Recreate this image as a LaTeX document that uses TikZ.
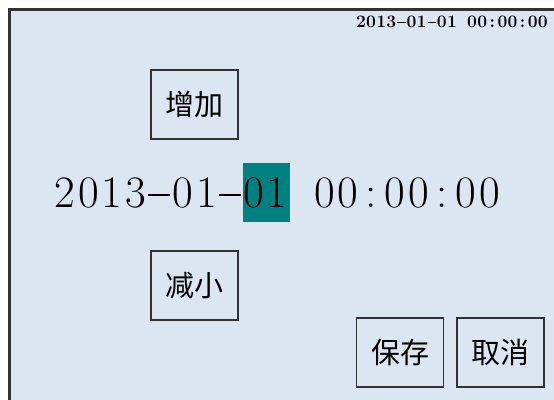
\documentclass[tikz,border=0pt]{standalone}
\usepackage{fontspec}
\newfontfamily\cjk{Noto Sans CJK SC}
\definecolor{panelbg}{RGB}{220,230,242}
\definecolor{selbg}{RGB}{0,128,128}
\definecolor{edge}{RGB}{50,50,50}
\newcommand{\dash}{\rule[0.24em]{0.48em}{0.06em}}

\begin{document}
\begin{tikzpicture}[x=1pt,y=-1pt]
\tikzstyle{button}=[draw=edge,line width=1.6pt,minimum width=87pt,minimum height=69pt,inner sep=0pt,font=\cjk\fontsize{29}{30}\selectfont]
\tikzstyle{bigch}=[anchor=base,inner sep=0pt,font=\fontsize{45}{50}\selectfont]
\tikzstyle{smallch}=[anchor=base,inner sep=0pt,font=\bfseries\fontsize{17.5}{19}\selectfont]
\tikzstyle{sel}=[fill=selbg,minimum width=47pt,minimum height=59pt,inner sep=0pt]
\useasboundingbox (0,0) rectangle (554,399);
\clip (0,0) rectangle (554,399);
\fill[white] (0,0) rectangle (554,399);
\fill[panelbg] (9.5,9.5) rectangle (560,405);
\draw[edge,line width=2.5pt] (9.5,405) -- (9.5,9.5) -- (560,9.5);
% clock in the corner
\foreach \c [count=\i from 0] in {2,0,1,3,\dash,0,1,\dash,0,1}
  \node[smallch] (t\i) at ({356+10.1*(\i+0.5)},27) {\c};
\foreach \c [count=\i from 11] in {0,0,:,0,0,:,0,0}
  \node[smallch] (t\i) at ({356+10.1*(\i+0.5)},27) {\c};
% selected field
\node[sel] (day) at (266.5,192.5) {};
\foreach \c [count=\i from 0] in {2,0,1,3,\dash,0,1,\dash,0,1}
  \node[bigch] (d\i) at ({53+23.6*(\i+0.5)},207) {\c};
\foreach \c [count=\i from 11] in {0,0,:,0,0,:,0,0}
  \node[bigch] (d\i) at ({53+23.6*(\i+0.5)},207) {\c};
% buttons
\node[button] (inc) at (194.5,104.5) {增加};
\node[button] (dec) at (194.5,285.5) {减小};
\node[button] (save) at (400,352.5) {保存};
\node[button] (cancel) at (500.5,352.5) {取消};
\end{tikzpicture}
\end{document}
